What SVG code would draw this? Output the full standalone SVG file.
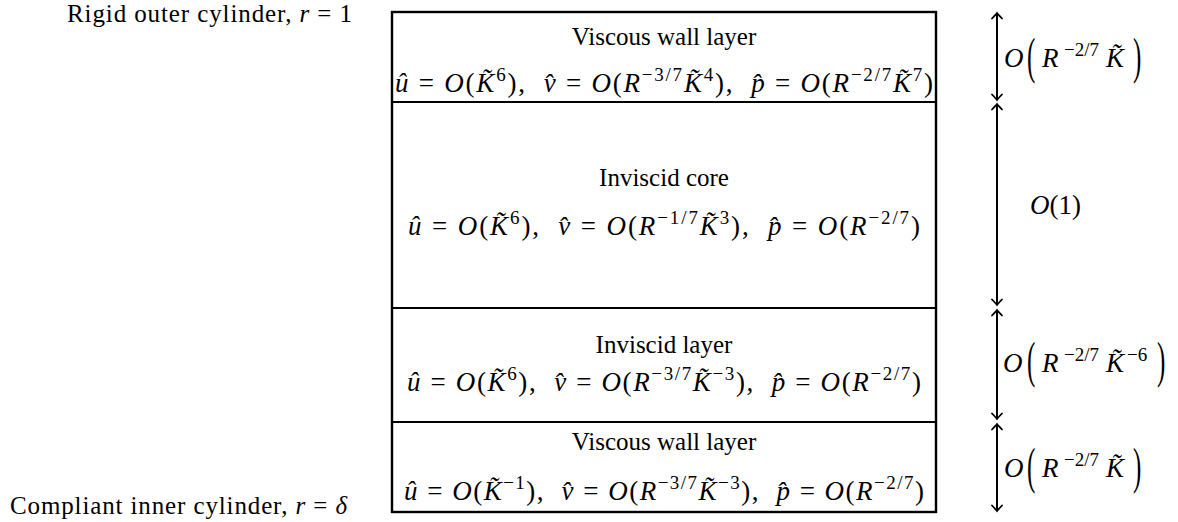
<svg xmlns="http://www.w3.org/2000/svg" width="1178" height="522" viewBox="0 0 1178 522">
<defs>
<style>
.t{font-family:"Liberation Serif",serif;font-size:25px;fill:#000}
.m{font-family:"Liberation Serif",serif;font-size:27px;fill:#000}
.i{font-style:italic}
.s{font-size:19px}
.box{fill:none;stroke:#000;stroke-width:2.4}
.div{stroke:#000;stroke-width:2.2}
.arr{stroke:#000;stroke-width:2;fill:none;marker-start:url(#ah);marker-end:url(#ah)}
</style>
<marker id="ah" markerUnits="userSpaceOnUse" orient="auto-start-reverse" refX="0" refY="0" markerWidth="14" markerHeight="14" viewBox="-7 -7 14 14" overflow="visible">
<path d="M-5.5,-5 Q-1.5,-1.2 0,0 Q-1.5,1.2 -5.5,5" fill="none" stroke="#000" stroke-width="1.8" stroke-linecap="round"/>
</marker>
</defs>
<rect width="1178" height="522" fill="#fff"/>

<g id="label-outer"><text class="t" x="67" y="22" textLength="285" lengthAdjust="spacing">Rigid outer cylinder, <tspan class="i">r</tspan> = 1</text></g>
<g id="label-inner"><text class="t" x="10" y="514" textLength="337" lengthAdjust="spacing">Compliant inner cylinder, <tspan class="i">r</tspan> = <tspan class="i">δ</tspan></text></g>

<g id="frame"><rect class="box" x="392" y="12" width="544" height="500"/></g>

<g id="layer-viscous-top">
<text class="t" x="664" y="45" text-anchor="middle">Viscous wall layer</text>
<text class="m" x="664" y="92" text-anchor="middle" textLength="538" lengthAdjust="spacing"><tspan class="i">û</tspan> = <tspan class="i">O</tspan>(<tspan class="i">K̃</tspan><tspan class="s" dy="-11">6</tspan><tspan dy="11">),&#160;&#160;</tspan><tspan class="i">v̂</tspan> = <tspan class="i">O</tspan>(<tspan class="i">R</tspan><tspan class="s" dy="-11">−3/7</tspan><tspan class="i" dy="11">K̃</tspan><tspan class="s" dy="-11">4</tspan><tspan dy="11">),&#160;&#160;</tspan><tspan class="i">p̂</tspan> = <tspan class="i">O</tspan>(<tspan class="i">R</tspan><tspan class="s" dy="-11">−2/7</tspan><tspan class="i" dy="11">K̃</tspan><tspan class="s" dy="-11">7</tspan><tspan dy="11">)</tspan></text>
</g>
<line class="div" x1="392" y1="102" x2="936" y2="102"/>

<g id="layer-core">
<text class="t" x="664" y="186" text-anchor="middle">Inviscid core</text>
<text class="m" x="664" y="235" text-anchor="middle" textLength="512" lengthAdjust="spacing"><tspan class="i">û</tspan> = <tspan class="i">O</tspan>(<tspan class="i">K̃</tspan><tspan class="s" dy="-11">6</tspan><tspan dy="11">),&#160;&#160;</tspan><tspan class="i">v̂</tspan> = <tspan class="i">O</tspan>(<tspan class="i">R</tspan><tspan class="s" dy="-11">−1/7</tspan><tspan class="i" dy="11">K̃</tspan><tspan class="s" dy="-11">3</tspan><tspan dy="11">),&#160;&#160;</tspan><tspan class="i">p̂</tspan> = <tspan class="i">O</tspan>(<tspan class="i">R</tspan><tspan class="s" dy="-11">−2/7</tspan><tspan dy="11">)</tspan></text>
</g>
<line class="div" x1="392" y1="308" x2="936" y2="308"/>

<g id="layer-inviscid">
<text class="t" x="664" y="353" text-anchor="middle">Inviscid layer</text>
<text class="m" x="664" y="391" text-anchor="middle" textLength="514" lengthAdjust="spacing"><tspan class="i">û</tspan> = <tspan class="i">O</tspan>(<tspan class="i">K̃</tspan><tspan class="s" dy="-11">6</tspan><tspan dy="11">),&#160;&#160;</tspan><tspan class="i">v̂</tspan> = <tspan class="i">O</tspan>(<tspan class="i">R</tspan><tspan class="s" dy="-11">−3/7</tspan><tspan class="i" dy="11">K̃</tspan><tspan class="s" dy="-11">−3</tspan><tspan dy="11">),&#160;&#160;</tspan><tspan class="i">p̂</tspan> = <tspan class="i">O</tspan>(<tspan class="i">R</tspan><tspan class="s" dy="-11">−2/7</tspan><tspan dy="11">)</tspan></text>
</g>
<line class="div" x1="392" y1="422" x2="936" y2="422"/>

<g id="layer-viscous-bottom">
<text class="t" x="664" y="450" text-anchor="middle">Viscous wall layer</text>
<text class="m" x="664" y="500" text-anchor="middle" textLength="520" lengthAdjust="spacing"><tspan class="i">û</tspan> = <tspan class="i">O</tspan>(<tspan class="i">K̃</tspan><tspan class="s" dy="-11">−1</tspan><tspan dy="11">),&#160;&#160;</tspan><tspan class="i">v̂</tspan> = <tspan class="i">O</tspan>(<tspan class="i">R</tspan><tspan class="s" dy="-11">−3/7</tspan><tspan class="i" dy="11">K̃</tspan><tspan class="s" dy="-11">−3</tspan><tspan dy="11">),&#160;&#160;</tspan><tspan class="i">p̂</tspan> = <tspan class="i">O</tspan>(<tspan class="i">R</tspan><tspan class="s" dy="-11">−2/7</tspan><tspan dy="11">)</tspan></text>
</g>

<g id="connectors">
<line class="arr" x1="997" y1="13" x2="997" y2="100"/>
<line class="arr" x1="997" y1="104" x2="997" y2="305"/>
<line class="arr" x1="997" y1="310" x2="997" y2="419"/>
<line class="arr" x1="997" y1="424" x2="997" y2="511"/>
</g>

<g id="scale-1">
<text class="m i" x="1004" y="67">O</text>
<text class="t" transform="translate(1027,73) scale(1,2)">(</text>
<text class="m i" x="1042" y="67">R</text>
<text class="m s" x="1064" y="56">−2/7</text>
<text class="m i" x="1106" y="67">K̃</text>
<text class="t" transform="translate(1133,73) scale(1,2)">)</text>
</g>
<g id="scale-2">
<text class="m" x="1030" y="214"><tspan class="i">O</tspan>(1)</text>
</g>
<g id="scale-3">
<text class="m i" x="1003" y="372">O</text>
<text class="t" transform="translate(1027,377) scale(1,2)">(</text>
<text class="m i" x="1042" y="372">R</text>
<text class="m s" x="1064" y="361">−2/7</text>
<text class="m i" x="1106" y="372">K̃</text>
<text class="m s" x="1127" y="361">−6</text>
<text class="t" transform="translate(1157,377) scale(1,2)">)</text>
</g>
<g id="scale-4">
<text class="m i" x="1004" y="477">O</text>
<text class="t" transform="translate(1027,483) scale(1,2)">(</text>
<text class="m i" x="1042" y="477">R</text>
<text class="m s" x="1064" y="466">−2/7</text>
<text class="m i" x="1106" y="477">K̃</text>
<text class="t" transform="translate(1133,483) scale(1,2)">)</text>
</g>
</svg>
